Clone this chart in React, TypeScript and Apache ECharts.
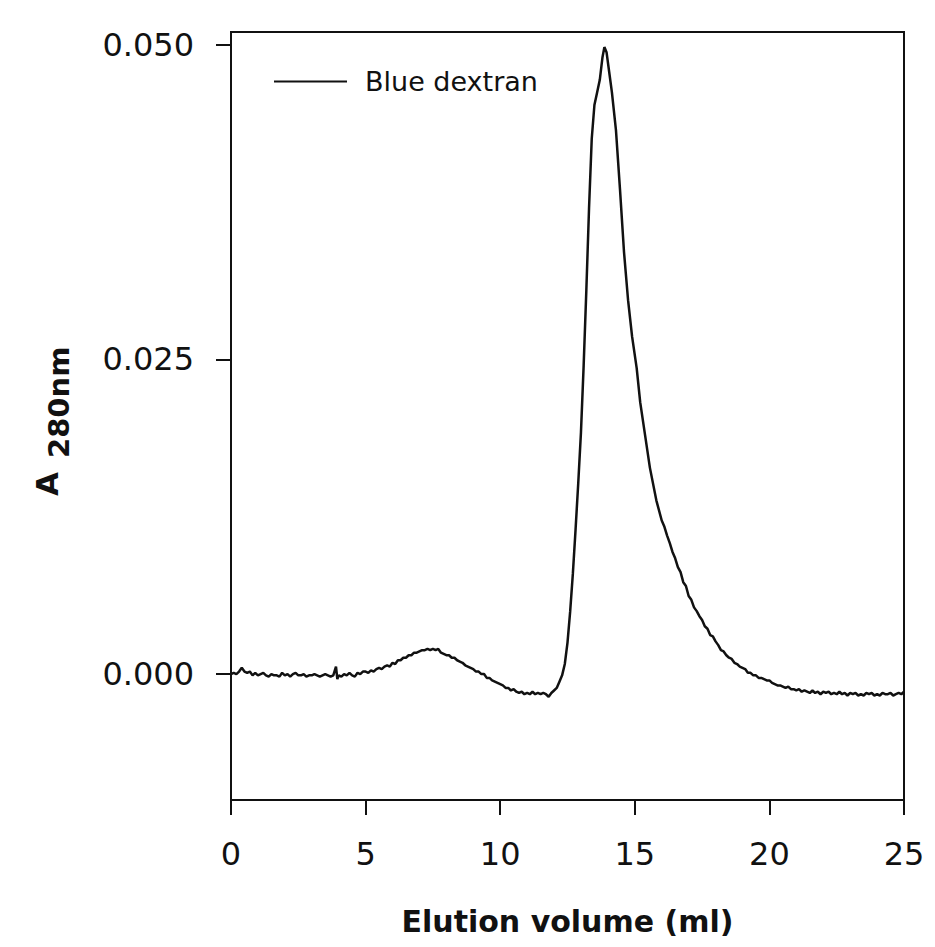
import React, { useEffect, useRef } from "react";
import * as echarts from "echarts";

// Elution profile: [volume (ml), A280]
const baselineSegment: [number, number][] = [
  [0.0, 0.0], [0.1, 0.0001], [0.2, 0.0], [0.3, 0.0002], [0.4, 0.0005], [0.5, 0.0002],
  [0.6, 0.0001], [0.7, 0.0002], [0.8, -0.0001], [0.9, 0.0001], [1.0, -0.0001], [1.1, 0.0],
  [1.2, 0.0001], [1.3, -0.0001], [1.4, -0.0002], [1.5, 0.0], [1.6, -0.0001], [1.7, -0.0001],
  [1.8, -0.0002], [1.9, 0.0001], [2.0, -0.0001], [2.1, 0.0], [2.2, -0.0002], [2.3, 0.0],
  [2.4, 0.0001], [2.5, -0.0001], [2.6, -0.0001], [2.7, 0.0], [2.8, -0.0002], [2.9, -0.0001],
  [3.0, -0.0001], [3.1, 0.0], [3.2, -0.0001], [3.3, -0.0002], [3.4, -0.0001], [3.5, 0.0],
  [3.6, -0.0001], [3.7, -0.0002], [3.8, -0.0001], [3.9, 0.0006], [3.95, -0.0004], [4.0, -0.0001],
  [4.1, -0.0002], [4.2, 0.0], [4.3, -0.0001], [4.4, 0.0001], [4.5, -0.0001], [4.6, -0.0002],
  [4.7, 0.0001], [4.8, 0.0], [4.9, 0.0002],
];

const bumpSegment: [number, number][] = [
  [5.0, 0.0002], [5.1, 0.0001], [5.2, 0.0003], [5.3, 0.0002], [5.4, 0.0004], [5.5, 0.0005],
  [5.6, 0.0004], [5.7, 0.0006], [5.8, 0.0007], [5.9, 0.0006], [6.0, 0.0009], [6.1, 0.0008],
  [6.2, 0.0011], [6.3, 0.0011], [6.4, 0.0013], [6.5, 0.0013], [6.6, 0.0015], [6.7, 0.0015],
  [6.8, 0.0017], [6.9, 0.0017], [7.0, 0.0018], [7.1, 0.0019], [7.2, 0.0019], [7.3, 0.002],
  [7.4, 0.0019], [7.5, 0.002], [7.6, 0.0019], [7.7, 0.002], [7.8, 0.0017], [7.9, 0.0016],
  [8.0, 0.0015], [8.1, 0.0015], [8.2, 0.0013], [8.3, 0.0013], [8.4, 0.0011], [8.5, 0.001],
  [8.6, 0.0009], [8.7, 0.0007], [8.8, 0.0006], [8.9, 0.0005], [9.0, 0.0004], [9.1, 0.0002],
  [9.2, 0.0002], [9.3, 0.0], [9.4, 0.0], [9.5, -0.0003], [9.6, -0.0003], [9.7, -0.0005],
  [9.8, -0.0006], [9.9, -0.0007], [10.0, -0.0008], [10.1, -0.0009], [10.2, -0.0011],
  [10.3, -0.0011], [10.4, -0.0013], [10.5, -0.0012], [10.6, -0.0014], [10.7, -0.0015],
  [10.8, -0.0014], [10.9, -0.0016], [11.0, -0.0015], [11.1, -0.0016], [11.2, -0.0014],
  [11.3, -0.0016], [11.4, -0.0015], [11.5, -0.0016], [11.6, -0.0015], [11.7, -0.0016],
  [11.8, -0.0018], [11.9, -0.0015], [12.0, -0.0013], [12.1, -0.0011], [12.2, -0.0006],
  [12.3, -0.0001],
];

const peakSegment: [number, number][] = [
  [12.4, 0.0008], [12.5, 0.0025], [12.6, 0.005], [12.7, 0.008], [12.8, 0.0115], [12.9, 0.0152],
  [13.0, 0.0192], [13.1, 0.0245], [13.2, 0.0305], [13.3, 0.037], [13.4, 0.0425], [13.5, 0.0452],
  [13.6, 0.0462], [13.7, 0.0472], [13.8, 0.049], [13.87, 0.0498], [13.95, 0.0494],
  [14.05, 0.0478], [14.15, 0.0462], [14.3, 0.0432], [14.45, 0.0385], [14.6, 0.0335],
  [14.75, 0.0297], [14.9, 0.0268], [15.07, 0.0243], [15.2, 0.0216], [15.38, 0.019],
  [15.56, 0.0164], [15.8, 0.0138], [16.0, 0.0122],
];

const tailSegment: [number, number][] = [
  [16.1, 0.0117], [16.2, 0.011], [16.3, 0.0104], [16.4, 0.0097], [16.5, 0.0092], [16.6, 0.0085],
  [16.7, 0.0081], [16.8, 0.0073], [16.9, 0.007], [17.0, 0.0062], [17.1, 0.0059], [17.2, 0.0053],
  [17.3, 0.0050], [17.4, 0.0046], [17.5, 0.0043], [17.6, 0.0038], [17.7, 0.0036], [17.8, 0.0031],
  [17.9, 0.003], [18.0, 0.0026], [18.1, 0.0023], [18.2, 0.0019], [18.3, 0.0018], [18.4, 0.0015],
  [18.5, 0.0013], [18.6, 0.0012], [18.7, 0.0009], [18.8, 0.0008], [18.9, 0.0006], [19.0, 0.0005],
  [19.1, 0.0004], [19.2, 0.0001], [19.3, 0.0001], [19.4, -0.0001], [19.5, -0.0001], [19.6, -0.0003],
  [19.7, -0.0003], [19.8, -0.0004], [19.9, -0.0005], [20.0, -0.0005], [20.1, -0.0007],
  [20.2, -0.0008], [20.3, -0.0009], [20.4, -0.0009], [20.5, -0.001], [20.6, -0.0011],
  [20.7, -0.001], [20.8, -0.0012], [20.9, -0.0012], [21.0, -0.0013], [21.1, -0.0012],
  [21.2, -0.0014], [21.3, -0.0013], [21.4, -0.0014], [21.5, -0.0015], [21.6, -0.0013],
  [21.7, -0.0015], [21.8, -0.0014], [21.9, -0.0016], [22.0, -0.0014], [22.1, -0.0015],
  [22.2, -0.0014], [22.3, -0.0016], [22.4, -0.0015], [22.5, -0.0016], [22.6, -0.0014],
  [22.7, -0.0016], [22.8, -0.0015], [22.9, -0.0017], [23.0, -0.0015], [23.1, -0.0016],
  [23.2, -0.0015], [23.3, -0.0017], [23.4, -0.0016], [23.5, -0.0017], [23.6, -0.0015],
  [23.7, -0.0016], [23.8, -0.0015], [23.9, -0.0017], [24.0, -0.0016], [24.1, -0.0017],
  [24.2, -0.0015], [24.3, -0.0016], [24.4, -0.0016], [24.5, -0.0015], [24.6, -0.0017],
  [24.7, -0.0016], [24.8, -0.0015], [24.9, -0.0016], [25.0, -0.0014],
];

const yTickValues = [0, 0.025, 0.05];
const seriesName = "Blue dextran";
const xAxisTitle = "Elution volume (ml)";

const FONT = "DejaVu Sans";
const INK = "#111";

export default function App() {
  const ref = useRef<HTMLDivElement>(null);
  useEffect(() => {
    if (!ref.current) return;
    const chart = echarts.init(ref.current, undefined, { renderer: "svg" });
    const data = [...baselineSegment, ...bumpSegment, ...peakSegment, ...tailSegment];
    chart.setOption({
      animation: false,
      backgroundColor: "#fff",
      grid: {
        left: 231,
        top: 32,
        width: 673,
        height: 768,
        show: true,
        borderColor: INK,
        borderWidth: 2,
        backgroundColor: "transparent",
        outerBoundsMode: "none",
      },
      legend: {
        left: 269,
        top: 63,
        itemWidth: 73,
        itemHeight: 2,
        icon: "rect",
        itemStyle: { color: INK },
        textStyle: { fontFamily: FONT, fontSize: 27, color: INK, padding: [0, 0, 0, 13] },
        data: [seriesName],
      },
      xAxis: {
        type: "value",
        min: 0,
        max: 25,
        interval: 5,
        name: xAxisTitle,
        nameLocation: "middle",
        nameGap: 106,
        nameTextStyle: { fontFamily: FONT, fontSize: 30, fontWeight: "bold", color: INK },
        axisLine: { show: true, onZero: false, lineStyle: { color: INK, width: 2 } },
        axisTick: { show: true, inside: false, length: 15, lineStyle: { color: INK, width: 2 } },
        axisLabel: { fontFamily: FONT, fontSize: 32, color: INK, margin: 38 },
        splitLine: { show: false },
      },
      yAxis: {
        type: "value",
        min: -0.01,
        max: 0.051,
        axisLine: { show: true, onZero: false, lineStyle: { color: INK, width: 2 } },
        axisTick: {
          show: true,
          inside: false,
          length: 15,
          customValues: yTickValues,
          lineStyle: { color: INK, width: 2 },
        },
        axisLabel: {
          fontFamily: FONT,
          fontSize: 32,
          color: INK,
          margin: 37,
          customValues: yTickValues,
          formatter: (v: number) => v.toFixed(3),
        },
        splitLine: { show: false },
      },
      graphic: [
        {
          type: "text",
          x: 47,
          y: 496,
          rotation: Math.PI / 2,
          style: {
            text: "A",
            font: `bold 31px "${FONT}"`,
            fill: INK,
            textAlign: "left",
            textVerticalAlign: "middle",
          },
        },
        {
          type: "text",
          x: 59,
          y: 458,
          rotation: Math.PI / 2,
          style: {
            text: "280nm",
            font: `bold 29px "${FONT}"`,
            fill: INK,
            textAlign: "left",
            textVerticalAlign: "middle",
          },
        },
      ],
      series: [
        {
          name: seriesName,
          type: "line",
          data,
          symbol: "none",
          smooth: false,
          lineStyle: { color: INK, width: 2.5 },
          itemStyle: { color: INK },
        },
      ],
    });
    return () => chart.dispose();
  }, []);
  return <div ref={ref} style={{ width: 935, height: 947, marginTop: -8, marginLeft: -8 }} />;
}
